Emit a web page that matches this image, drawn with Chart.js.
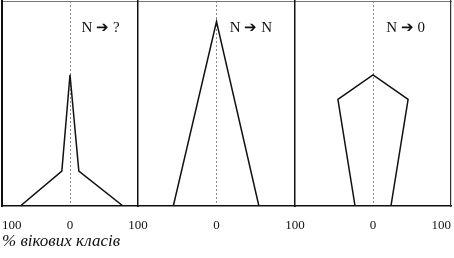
<!DOCTYPE html>
<html>
<head>
<meta charset="utf-8">
<script src="https://cdn.jsdelivr.net/npm/chart.js@4"></script>
<style>
  body { margin: 0; background: #fff; }
  #wrap { position: relative; width: 454px; height: 258px; overflow: hidden; background: #fff; }
  canvas { position: absolute; top: 0; }
</style>
</head>
<body>
<div id="wrap">
  <canvas id="c1" width="160" height="258" style="left:0px"></canvas>
  <canvas id="c2" width="197" height="258" style="left:118px"></canvas>
  <canvas id="c3" width="179" height="258" style="left:275px"></canvas>
</div>
<script>
// % of age classes, left half drawn as negative values
const panelTitles = ["N \u2794 ?", "N \u2794 N", "N \u2794 0"];
const tickValues = [-100, 0, 100];
const tickLabels = ["100", "0", "100"];
const axisTitle = "% вікових класів";

// age level: 0 = bottom of panel, 100 = top
const growingX = [-73, -12, 0, 13, 78];
const growingY = [0, 17, 64, 17, 0];
const stableX = [-55, 0, 54];
const stableY = [0, 90, 0];
const decliningX = [-23, -45, 0, 45, 23];
const decliningY = [0, 52, 64, 52, 0];

const serif = "'Liberation Serif', 'Times New Roman', serif";

// label "N -> ..." inside each panel
const panelLabel = {
  id: "panelLabel",
  afterDatasetsDraw(chart, args, opts) {
    const { ctx, scales } = chart;
    ctx.save();
    ctx.font = "15px " + serif;
    ctx.fillStyle = "#111";
    ctx.textBaseline = "middle";
    ctx.textAlign = "left";
    ctx.fillText(opts.text, scales.x.getPixelForValue(17), scales.y.getPixelForValue(87));
    ctx.restore();
  },
};

function makePanel(id, xs, ys, title, cfg) {
  const points = xs.map((x, i) => ({ x: x, y: ys[i] }));

  const scales = {
    x: {
      type: "linear",
      min: -100,
      max: 100,
      afterBuildTicks: (scale) => {
        scale.ticks = tickValues.map((v) => ({ value: v }));
      },
      afterFit: (scale) => {
        // keep all panels on the same baseline, edge labels may overhang
        scale.height = 52;
        scale.paddingLeft = 0;
        scale.paddingRight = 0;
      },
      ticks: {
        align: cfg.align,
        padding: 12,
        font: { family: serif, size: 13 },
        color: (c) => (c.index === cfg.hideTick ? "transparent" : "#111"),
        callback: (value, index) => tickLabels[index],
      },
      grid: {
        drawTicks: false,
        lineWidth: 1,
        color: (c) => (c.tick && c.tick.value === 0 ? "#8c8c8c" : "transparent"),
      },
      border: { display: true, color: "#111", width: 1.5, dash: [2, 2] },
      title: {
        display: true,
        text: cfg.showTitle ? axisTitle : " ",
        align: "start",
        color: "#111",
        font: { family: serif, size: 17, style: "italic" },
        padding: { top: 2, bottom: 6 },
      },
    },
    xTop: {
      type: "linear",
      position: "top",
      ticks: { display: false },
      grid: { display: false, drawTicks: false },
      border: { display: true, color: "#777", width: 1 },
    },
    y: {
      type: "linear",
      min: 0,
      max: 100,
      ticks: { display: false },
      grid: { display: false, drawTicks: false },
      border: { display: true, color: "#111", width: cfg.leftWidth },
    },
  };

  if (cfg.rightBorder) {
    scales.yRight = {
      type: "linear",
      position: "right",
      ticks: { display: false },
      grid: { display: false, drawTicks: false },
      border: { display: true, color: "#333", width: 1.2 },
    };
  }

  new Chart(document.getElementById(id), {
    type: "line",
    data: {
      datasets: [
        {
          data: points,
          borderColor: "#111",
          borderWidth: 1.5,
          pointRadius: 0,
          fill: false,
          tension: 0,
        },
      ],
    },
    options: {
      responsive: false,
      animation: false,
      layout: { padding: cfg.padding },
      scales: scales,
      plugins: {
        legend: { display: false },
        tooltip: { enabled: false },
        panelLabel: { text: title },
      },
    },
    plugins: [panelLabel],
  });
}

makePanel("c1", growingX, growingY, panelTitles[0], {
  align: "inner",
  hideTick: 2,
  showTitle: true,
  leftWidth: 2,
  padding: { left: 2, right: 22, top: 1, bottom: 0 },
});

makePanel("c2", stableX, stableY, panelTitles[1], {
  align: "center",
  hideTick: -1,
  showTitle: false,
  leftWidth: 1.5,
  padding: { left: 20, right: 20, top: 1, bottom: 0 },
});

makePanel("c3", decliningX, decliningY, panelTitles[2], {
  align: "inner",
  hideTick: 0,
  showTitle: false,
  leftWidth: 1.5,
  rightBorder: true,
  padding: { left: 20, right: 3, top: 1, bottom: 0 },
});
</script>
</body>
</html>
